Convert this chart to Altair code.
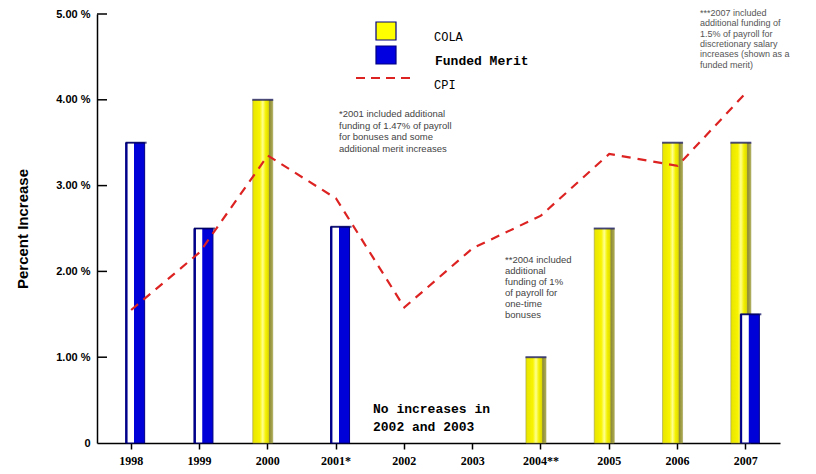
import altair as alt
import pandas as pd

years = ["1998", "1999", "2000", "2001*", "2002", "2003", "2004**", "2005", "2006", "2007"]
cola = [None, None, 4.0, None, None, None, 1.0, 2.5, 3.5, 3.5]
merit = [3.5, 2.5, None, 2.52, None, None, None, None, None, 1.5]
cpi = [1.55, 2.22, 3.35, 2.85, 1.58, 2.27, 2.65, 3.37, 3.23, 4.08]
y_ticks = [0, 1, 2, 3, 4, 5]

note_2001 = ["*2001 included additional", "funding of 1.47% of payroll",
             "for bonuses and some", "additional merit increases"]
note_2004 = ["**2004 included", "additional", "funding of 1%",
             "of payroll for", "one-time", "bonuses"]
note_2007 = ["***2007 included", "additional funding of", "1.5% of payroll for",
             "discretionary salary", "increases (shown as a", "funded merit)"]
no_incr = ["No increases in", "2002 and 2003"]

df = pd.DataFrame({"year": years, "cola": cola, "merit": merit, "cpi": cpi})
W, H = 683, 429

xenc = alt.X("year:N", sort=years,
             scale=alt.Scale(paddingInner=0, paddingOuter=0),
             axis=alt.Axis(title=None, labelAngle=0, labelFont="Liberation Serif",
                           labelFontWeight="bold", labelFontSize=12, labelColor="black",
                           domainColor="black", domainWidth=1.5, tickColor="black",
                           tickSize=6, tickWidth=1.5, labelPadding=6))
yscale = alt.Scale(domain=[0, 5], nice=False)

base = alt.Chart(df)

cola_grad = alt.Gradient(gradient="linear", x1=0, x2=1, y1=0, y2=0, stops=[
    alt.GradientStop(color="#e8e400", offset=0),
    alt.GradientStop(color="#f8f400", offset=0.35),
    alt.GradientStop(color="#ffff90", offset=0.5),
    alt.GradientStop(color="#f4f000", offset=0.65),
    alt.GradientStop(color="#e0dc00", offset=0.78),
    alt.GradientStop(color="#8c8a3a", offset=0.84),
    alt.GradientStop(color="#b0ae50", offset=1)])
merit_grad = alt.Gradient(gradient="linear", x1=0, x2=1, y1=0, y2=0, stops=[
    alt.GradientStop(color="#000090", offset=0),
    alt.GradientStop(color="#000090", offset=0.08),
    alt.GradientStop(color="#ffffff", offset=0.12),
    alt.GradientStop(color="#ffffff", offset=0.42),
    alt.GradientStop(color="#0000d8", offset=0.46),
    alt.GradientStop(color="#0000d8", offset=1)])

cola_bar = base.transform_filter("isValid(datum.cola)").mark_bar(
    width=20, xOffset=-5, fill=cola_grad, stroke="#9a9848", strokeWidth=0.6
).encode(x=xenc, y=alt.Y("cola:Q", scale=yscale))
cola_top = base.transform_filter("isValid(datum.cola)").mark_tick(
    size=21, thickness=2, color="#10106a", xOffset=-5
).encode(x=xenc, y=alt.Y("cola:Q", scale=yscale))

merit_bar = base.transform_filter("isValid(datum.merit)").mark_bar(
    width=19, xOffset=4, fill=merit_grad, stroke="#000080", strokeWidth=1
).encode(x=xenc, y=alt.Y("merit:Q", scale=yscale))
merit_top = base.transform_filter("isValid(datum.merit)").mark_tick(
    size=21, thickness=2, color="#000060", xOffset=5
).encode(x=xenc, y=alt.Y("merit:Q", scale=yscale))

cpi_line = base.mark_line(color="#dd2222", strokeWidth=2.2, strokeDash=[9, 7]).encode(
    x=xenc,
    y=alt.Y("cpi:Q", scale=yscale,
            axis=alt.Axis(values=y_ticks, title="Percent Increase",
                          labelExpr="datum.value == 0 ? '0' : format(datum.value, '.2f') + ' %'",
                          labelFont="Liberation Sans", labelFontWeight="bold",
                          labelFontSize=11, labelColor="black", labelPadding=7,
                          ticks=False, grid=False, domainColor="black", domainWidth=1.5,
                          titleFont="Liberation Sans", titleFontSize=15,
                          titleFontWeight="bold", titleColor="black", titleX=-67)))

yt = alt.Chart(pd.DataFrame({"v": y_ticks[1:]})).mark_rule(color="black", strokeWidth=1.5).encode(
    y=alt.Y("v:Q", scale=yscale), x=alt.value(0), x2=alt.value(10))

one = pd.DataFrame({"a": [0]})
def txt(lines, px, py, size, color, weight="normal", font="Liberation Sans", lh=None):
    return alt.Chart(one).mark_text(
        text=lines, align="left", baseline="top", fontSize=size, color=color,
        fontWeight=weight, font=font, lineHeight=lh or size + 2
    ).encode(x=alt.value(px), y=alt.value(py))

legend_sq = alt.Chart(pd.DataFrame({"c": ["COLA", "Funded Merit"], "py": [17, 41]})).mark_rect(
    width=20, height=18, stroke="#000080", strokeWidth=1.2
).encode(x=alt.value(289), y=alt.Y("py:Q", scale=None),
         color=alt.Color("c:N", scale=alt.Scale(domain=["COLA", "Funded Merit"],
                                                range=["#ffff00", "#0000e0"]), legend=None))
legend_line = alt.Chart(one).mark_rule(color="#dd2222", strokeWidth=2, strokeDash=[9, 6]).encode(
    x=alt.value(259), x2=alt.value(315), y=alt.value(64))

layers = [
    cola_bar, cola_top, merit_bar, merit_top, cpi_line, yt, legend_sq, legend_line,
    txt(["COLA"], 337, 18, 12, "black", font="Liberation Mono"),
    txt(["Funded Merit"], 338, 41, 13, "black", weight="bold", font="Liberation Mono"),
    txt(["CPI"], 337, 66, 12, "black", font="Liberation Mono"),
    txt(note_2001, 242, 95, 9.5, "#444444", lh=11.5),
    txt(note_2004, 408, 241, 9.5, "#444444", lh=11),
    txt(note_2007, 603, -5, 9, "#555555", lh=10.3),
    txt(no_incr, 276, 389, 13, "black", weight="bold", font="Liberation Mono", lh=18),
]

chart = alt.layer(*layers).properties(
    width=W, height=H,
    autosize=alt.AutoSizeParams(type="none"),
    padding={"left": 89, "top": 6, "right": 20, "bottom": 30},
).configure_view(stroke=None)

chart.save("out.html", embed_options={"renderer": "svg", "actions": False})
